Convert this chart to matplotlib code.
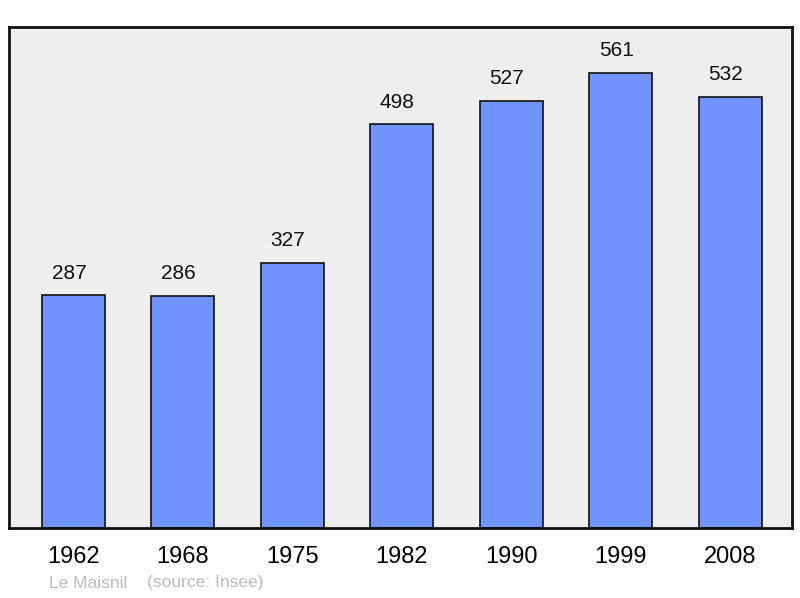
import matplotlib
matplotlib.use('Agg')
import matplotlib.pyplot as plt

plt.rcParams['font.family'] = ['Liberation Sans', 'DejaVu Sans']

years = ['1962', '1968', '1975', '1982', '1990', '1999', '2008']
population = [287, 286, 327, 498, 527, 561, 532]

fig = plt.figure(figsize=(8, 5.98), dpi=100)
ax = fig.add_axes([9/800, 70/598, 783/800, 501/598])
ax.set_facecolor('#eeeeee')

xs = range(len(years))
ax.bar(xs, population, width=0.575, color='#7094ff', edgecolor='#111111', linewidth=1.2, zorder=2)

for x, v in zip(xs, population):
    ax.annotate(str(v), (x, v), xytext=(-3, 16), textcoords='offset points',
                ha='center', va='center', fontsize=15, color='#111111')

ax.set_xlim(-0.585, 6.565)
ax.set_ylim(0, 618)
ax.set_yticks([])
ax.set_xticks(list(xs))
ax.set_xticklabels(years, fontsize=17)
ax.tick_params(axis='x', length=0, pad=13)
for s in ax.spines.values():
    s.set_linewidth(2)
    s.set_color('#111111')

fig.text(49/800, 1 - 583/598, 'Le Maisnil', fontsize=12.5,
         color='#bbbbbb', ha='left', va='center')
fig.text(147/800, 1 - 583/598, '(source: Insee)', fontsize=12.5,
         color='#bbbbbb', ha='left', va='center')

fig.savefig('out.png', dpi=100)
